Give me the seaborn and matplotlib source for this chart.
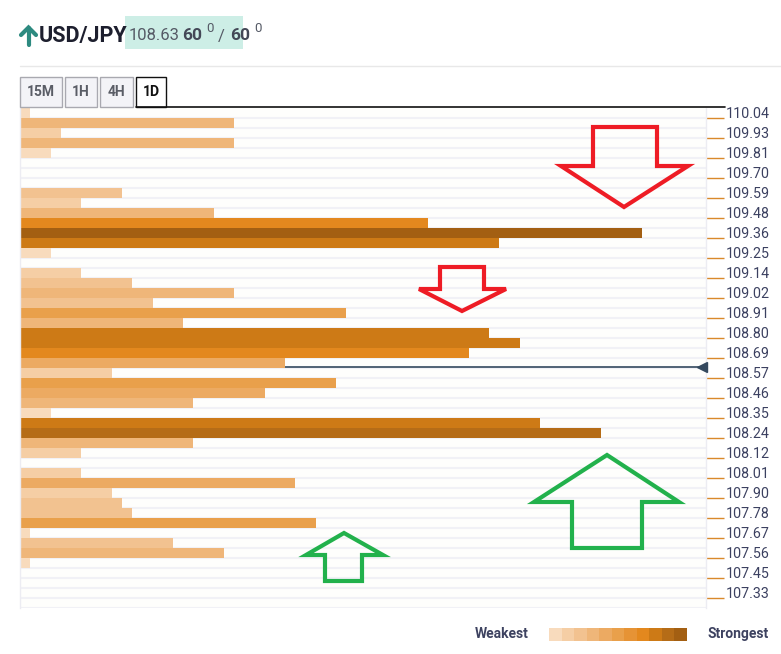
import numpy as np
import pandas as pd
import matplotlib
matplotlib.use("Agg")
import matplotlib.pyplot as plt
from matplotlib.patches import Polygon, Rectangle
from matplotlib.lines import Line2D
import seaborn as sns

# ===============================
# data
# ===============================
levels = [110.04, 109.93, 109.81, 109.70, 109.59, 109.48, 109.36, 109.25, 109.14,
          109.02, 108.91, 108.80, 108.69, 108.57, 108.46, 108.35, 108.24, 108.12,
          108.01, 107.90, 107.78, 107.67, 107.56, 107.45, 107.33]

# confluence strength per row (50 rows, top to bottom, two rows per level)
widths = [1, 21, 4, 21, 3, 0, 0, 0, 10, 6,
          19, 40, 61, 47, 3, 0, 6, 11, 21, 13,
          32, 16, 46, 49, 44, 26, 9, 31, 24, 17,
          3, 51, 57, 17, 6, 0, 6, 27, 9, 10,
          11, 29, 1, 15, 20, 1, 0, 0, 0, 0]
strength = [1, 4, 2, 4, 1, 1, 1, 1, 3, 2,
            4, 8, 11, 9, 1, 1, 2, 3, 4, 3,
            6, 4, 9, 9, 8, 5, 2, 6, 5, 4,
            1, 9, 10, 4, 2, 1, 2, 5, 2, 3,
            3, 6, 1, 3, 4, 1, 1, 1, 1, 1]

price = 108.63
pair = "USD/JPY"
tabs = ["15M", "1H", "4H", "1D"]

scale = ["#f8dbbd", "#f5cea5", "#f2c290", "#efb679", "#ecaa62", "#e9a04b",
         "#e69335", "#e3881e", "#cd7a16", "#b56c17", "#a35f12"]

W, H = 781, 654


def px(x, y):
    return (x / W, 1 - y / H)


sns.set_theme(style="white")
plt.rcParams['font.family'] = ['Roboto', 'DejaVu Sans']

fig = plt.figure(figsize=(W / 100, H / 100), dpi=100)
fig.patch.set_facecolor("white")

# ===============================
# bars
# ===============================
ax = fig.add_axes([20 / W, (H - 608) / H, 686 / W, 500 / H])
ax.set_facecolor("#fefefc")

rows = [str(i) for i in range(len(widths))]
df = pd.DataFrame({"row": rows, "w": widths})
pal = [scale[s - 1] for s in strength]
sns.barplot(data=df, x="w", y="row", hue="row", palette=pal, width=1.0,
            saturation=1, legend=False, orient="h", ax=ax, linewidth=0)

n = len(widths)
ax.set_xlim(0, 67.25)
ax.set_ylim(n - 0.5, -0.5)
for i in range(n):
    ax.axhline(i + 0.45, color="#f1f1f6", lw=1.5, zorder=0.5)

# price line, placed near the bottom edge of the row that holds the price
label_rows = np.arange(0, n - 1, 2)
price_idx = np.interp(price, levels[::-1], label_rows[::-1])
prow = int(round(price_idx)) + 0.36
ax.plot([0, 67.25], [prow, prow], color="#34495e", lw=1.2, zorder=0.8)
ax.plot([66.9], [prow], marker="<", ms=7, color="#34495e", clip_on=False, zorder=3)

for s in ["top", "bottom"]:
    ax.spines[s].set_visible(False)
for s in ["left", "right"]:
    ax.spines[s].set_color("#ececf2")
    ax.spines[s].set_linewidth(1)

ax.set_xticks([])
ax.set_xlabel("")
ax.set_ylabel("")
ax.yaxis.tick_right()
ax.set_yticks(label_rows + 0.45, labels=[f"{v:.2f}" for v in levels], va="baseline")
ax.tick_params(axis="y", length=13, color="#d9892b", width=1, pad=1,
               labelsize=10.3, labelcolor="#3b4060", left=False, right=True)

# ===============================
# arrows (annotations)
# ===============================
red = "#ee1c25"
green = "#22b14c"
arrows = [
    ([(593, 127), (657, 127), (657, 166), (688, 166), (624, 207), (561, 166), (593, 166)], red),
    ([(440, 267), (484, 267), (484, 289), (506, 289), (462, 311), (419, 289), (440, 289)], red),
    ([(607, 455), (679, 502), (642, 502), (642, 548), (572, 548), (572, 502), (534, 502)], green),
    ([(344, 533), (383, 555), (362, 555), (362, 581), (325, 581), (325, 555), (306, 555)], green),
]
for pts, c in arrows:
    fig.patches.append(Polygon([px(*p) for p in pts], closed=True, fill=False,
                               edgecolor=c, lw=3, joinstyle="miter",
                               transform=fig.transFigure, zorder=5))

# ===============================
# header
# ===============================
teal = "#2d8a80"
fig.add_artist(Line2D([px(28.5, 0)[0]] * 2, [px(0, 45)[1], px(0, 28)[1]], color=teal, lw=3))
fig.add_artist(Line2D([px(21, 0)[0], px(28.5, 0)[0], px(36, 0)[0]],
                      [px(0, 35)[1], px(0, 27.5)[1], px(0, 35)[1]], color=teal, lw=3,
                      solid_joinstyle="miter"))
fig.text(*px(39, 36), pair, fontsize=15.5, fontweight="bold", color="#1d1f2e", va="center")
fig.patches.append(Rectangle(px(125, 49), 118 / W, 33 / H, transform=fig.transFigure,
                             facecolor="#cdeee6", edgecolor="none"))
fig.text(*px(129, 36), f"{price:.2f}", fontsize=12, color="#555a66", va="center")
fig.text(*px(182, 36), "60", fontsize=12.5, fontweight="bold", color="#444857", va="center")
fig.text(*px(206, 29), "0", fontsize=9.5, color="#555a66", va="center")
fig.text(*px(218, 36), "/", fontsize=12, color="#555a66", va="center")
fig.text(*px(230, 36), "60", fontsize=12.5, fontweight="bold", color="#444857", va="center")
fig.text(*px(254, 29), "0", fontsize=9.5, color="#555a66", va="center")
fig.add_artist(Line2D([px(20, 0)[0], 1], [px(0, 66)[1]] * 2, color="#e8e8e8", lw=1))

# tabs
tab_x = [(20, 62), (65, 97), (100, 133), (136, 166)]
for (x0, x1), t in zip(tab_x, tabs):
    active = t == "1D"
    fig.patches.append(Rectangle(px(x0, 107), (x1 - x0) / W, 30 / H, transform=fig.transFigure,
                                 facecolor="white" if active else "#f3f3f7",
                                 edgecolor="#111111" if active else "#a9a9b0", lw=1))
    fig.text(*px((x0 + x1) / 2, 92), t, fontsize=10, fontweight="bold",
             color="#111111" if active else "#5a5d66", ha="center", va="center")
fig.add_artist(Line2D([px(136, 0)[0], px(725, 0)[0]], [px(0, 107)[1]] * 2, color="#111111", lw=1.2))

# legend
fig.text(*px(529, 634), "Weakest", fontsize=10, fontweight="bold", color="#3d4260",
         ha="right", va="center")
sw = (687 - 549) / len(scale)
for k, c in enumerate(scale):
    fig.patches.append(Rectangle(px(549 + k * sw, 641), sw / W + 0.0005, 13 / H,
                                 transform=fig.transFigure, facecolor=c, edgecolor="none"))
fig.text(*px(707, 634), "Strongest", fontsize=10, fontweight="bold", color="#3d4260",
         ha="left", va="center")

fig.savefig("out.png", dpi=100)
